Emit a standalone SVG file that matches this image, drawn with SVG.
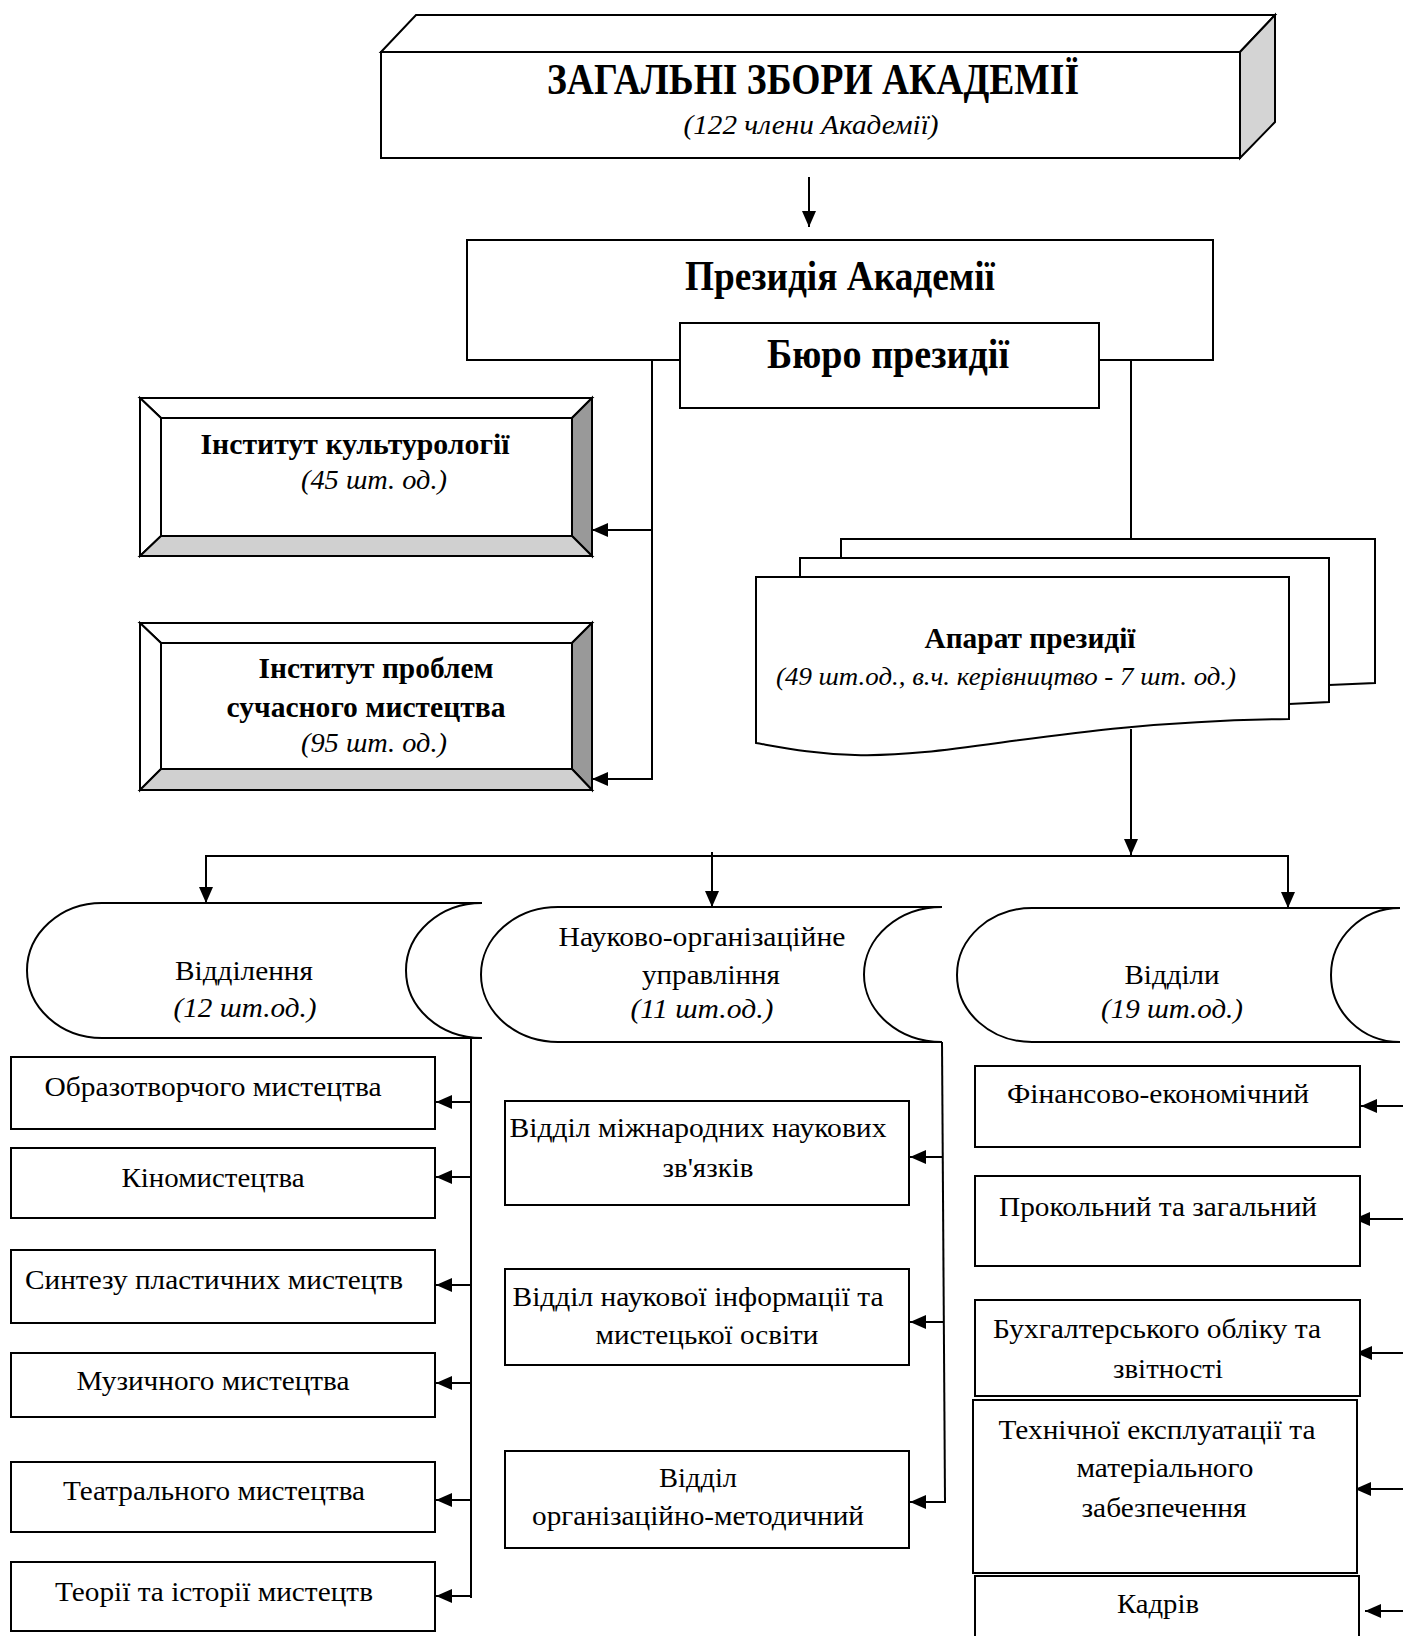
<svg xmlns="http://www.w3.org/2000/svg" width="1403" height="1636" viewBox="0 0 1403 1636">
<defs>
<style>
.b{fill:#fff;stroke:#000;stroke-width:2}
.t{font-family:"Liberation Serif","Times New Roman",serif;fill:#000;text-anchor:middle;font-size:28px}
.bd{font-weight:bold}
.it{font-style:italic}
.c{stroke:#000;stroke-width:2;fill:none}
.a{marker-end:url(#ah)}
.big{font-size:43px}
.s29{font-size:29px}
.s26{font-size:26px}
</style>
<marker id="ah" markerUnits="userSpaceOnUse" markerWidth="16" markerHeight="14" refX="16" refY="7" orient="auto">
<path d="M0,0 L16,7 L0,14 Z" fill="#000"/>
</marker>
</defs>
<rect width="1403" height="1636" fill="#fff"/>

<g id="connectors">
<line class="c a" x1="809" y1="177" x2="809" y2="227"/>
<line class="c" x1="652" y1="360" x2="652" y2="780"/>
<line class="c a" x1="652" y1="530" x2="592" y2="530"/>
<line class="c a" x1="653" y1="779" x2="592" y2="779"/>
<line class="c" x1="1131" y1="360" x2="1131" y2="539"/>
<line class="c a" x1="1131" y1="729" x2="1131" y2="855"/>
<line class="c" x1="205" y1="856" x2="1289" y2="856"/>
<line class="c a" x1="206" y1="856" x2="206" y2="903"/>
<line class="c a" x1="712" y1="852" x2="712" y2="907"/>
<line class="c a" x1="1288" y1="856" x2="1288" y2="908"/>
<line class="c" x1="471" y1="1038" x2="471" y2="1598"/>
<line class="c a" x1="471" y1="1102" x2="436" y2="1102"/>
<line class="c a" x1="471" y1="1177" x2="436" y2="1177"/>
<line class="c a" x1="471" y1="1285" x2="436" y2="1285"/>
<line class="c a" x1="471" y1="1383" x2="436" y2="1383"/>
<line class="c a" x1="472" y1="1500" x2="436" y2="1500"/>
<line class="c a" x1="471" y1="1596" x2="436" y2="1596"/>
<line class="c" x1="942" y1="1042" x2="945" y2="1502"/>
<line class="c a" x1="943" y1="1157" x2="910" y2="1157"/>
<line class="c a" x1="944" y1="1322" x2="910" y2="1322"/>
<line class="c a" x1="946" y1="1502" x2="910" y2="1502"/>
<line class="c a" x1="1403" y1="1106" x2="1361" y2="1106"/>
<line class="c a" x1="1403" y1="1219" x2="1354" y2="1219"/>
<line class="c a" x1="1403" y1="1353" x2="1356" y2="1353"/>
<line class="c a" x1="1403" y1="1489" x2="1355" y2="1489"/>
<line class="c a" x1="1403" y1="1611" x2="1365" y2="1611"/>
</g>

<g id="zagalni">
<polygon class="b" points="381,52 416,15 1275,15 1240,52"/>
<polygon class="b" points="1240,52 1275,15 1275,122 1240,158" style="fill:#d4d4d4"/>
<rect class="b" x="381" y="52" width="859" height="106"/>
<text class="t bd" x="813" y="94" style="font-size:44px" textLength="532" lengthAdjust="spacingAndGlyphs">ЗАГАЛЬНІ ЗБОРИ АКАДЕМІЇ</text>
<text class="t it" x="811" y="134" textLength="255" lengthAdjust="spacingAndGlyphs">(122 члени Академії)</text>
</g>

<g id="prezydiia">
<rect class="b" x="467" y="240" width="746" height="120"/>
<text class="t bd big" x="840" y="290" textLength="310" lengthAdjust="spacingAndGlyphs">Президія Академії</text>
</g>

<g id="biuro">
<rect class="b" x="680" y="323" width="419" height="85"/>
<text class="t bd big" x="888" y="368" textLength="242" lengthAdjust="spacingAndGlyphs">Бюро президії</text>
</g>

<g id="inst-kult">
<polygon class="b" points="140,398 592,398 572,418 161,418"/>
<polygon class="b" points="140,398 161,418 161,536 140,556"/>
<polygon class="b" points="592,398 592,556 572,536 572,418" style="fill:#999"/>
<polygon class="b" points="140,556 592,556 572,536 161,536" style="fill:#d0d0d0"/>
<rect class="b" x="161" y="418" width="411" height="118"/>
<text class="t bd s29" x="355" y="454" textLength="309" lengthAdjust="spacingAndGlyphs">Інститут культурології</text>
<text class="t it" x="374" y="489" textLength="146" lengthAdjust="spacingAndGlyphs">(45 шт. од.)</text>
</g>

<g id="inst-probl">
<polygon class="b" points="140,623 592,623 572,643 161,643"/>
<polygon class="b" points="140,623 161,643 161,769 140,790"/>
<polygon class="b" points="592,623 592,790 572,769 572,643" style="fill:#999"/>
<polygon class="b" points="140,790 592,790 572,769 161,769" style="fill:#d0d0d0"/>
<rect class="b" x="161" y="643" width="411" height="126"/>
<text class="t bd s29" x="376" y="678" textLength="235" lengthAdjust="spacingAndGlyphs">Інститут проблем</text>
<text class="t bd s29" x="366" y="717" textLength="279" lengthAdjust="spacingAndGlyphs">сучасного мистецтва</text>
<text class="t it" x="374" y="752" textLength="146" lengthAdjust="spacingAndGlyphs">(95 шт. од.)</text>
</g>

<g id="aparat">
<path class="b" d="M841,539 H1375 V683 L1329,685 L841,700 Z"/>
<path class="b" d="M800,558 H1329 V702 L1289,704 L800,720 Z"/>
<path class="b" d="M756,577 H1289 V719 C1060,722 960,758 855,755 C815,754 785,748 756,743 Z"/>
<text class="t bd s29" x="1030" y="648" textLength="211" lengthAdjust="spacingAndGlyphs">Апарат президії</text>
<text class="t it s26" x="1006" y="685" textLength="460" lengthAdjust="spacingAndGlyphs">(49 шт.од., в.ч. керівництво - 7 шт. од.)</text>
</g>

<g id="viddilennia">
<path class="b" d="M102,903 H482 A76,67.5 0 0 0 482,1038 H102 A75,67.5 0 0 1 102,903 Z"/>
<text class="t" x="244" y="980" textLength="138" lengthAdjust="spacingAndGlyphs">Відділення</text>
<text class="t it" x="245" y="1017" textLength="143" lengthAdjust="spacingAndGlyphs">(12 шт.од.)</text>
</g>

<g id="naukovo">
<path class="b" d="M558,907 H942 A78,67.5 0 0 0 942,1042 H558 A77,67.5 0 0 1 558,907 Z"/>
<text class="t" x="702" y="946" textLength="287" lengthAdjust="spacingAndGlyphs">Науково-організаційне</text>
<text class="t" x="711" y="984" textLength="138" lengthAdjust="spacingAndGlyphs">управління</text>
<text class="t it" x="702" y="1018" textLength="143" lengthAdjust="spacingAndGlyphs">(11 шт.од.)</text>
</g>

<g id="viddily">
<path class="b" d="M1032,908 H1400 A69,67 0 0 0 1400,1042 H1032 A75,67 0 0 1 1032,908 Z"/>
<text class="t" x="1172" y="984" textLength="95" lengthAdjust="spacingAndGlyphs">Відділи</text>
<text class="t it" x="1172" y="1018" textLength="142" lengthAdjust="spacingAndGlyphs">(19 шт.од.)</text>
</g>

<g id="l1"><rect class="b" x="11" y="1057" width="424" height="72"/><text class="t" x="213" y="1096" textLength="337" lengthAdjust="spacingAndGlyphs">Образотворчого мистецтва</text></g>
<g id="l2"><rect class="b" x="11" y="1148" width="424" height="70"/><text class="t" x="213" y="1187" textLength="183" lengthAdjust="spacingAndGlyphs">Кіномистецтва</text></g>
<g id="l3"><rect class="b" x="11" y="1250" width="424" height="73"/><text class="t" x="214" y="1289" textLength="378" lengthAdjust="spacingAndGlyphs">Синтезу пластичних мистецтв</text></g>
<g id="l4"><rect class="b" x="11" y="1353" width="424" height="64"/><text class="t" x="213" y="1390" textLength="273" lengthAdjust="spacingAndGlyphs">Музичного мистецтва</text></g>
<g id="l5"><rect class="b" x="11" y="1462" width="424" height="70"/><text class="t" x="214" y="1500" textLength="302" lengthAdjust="spacingAndGlyphs">Театрального мистецтва</text></g>
<g id="l6"><rect class="b" x="11" y="1562" width="424" height="69"/><text class="t" x="214" y="1601" textLength="318" lengthAdjust="spacingAndGlyphs">Теорії та історії мистецтв</text></g>

<g id="m1"><rect class="b" x="505" y="1101" width="404" height="104"/>
<text class="t" x="698" y="1137" textLength="377" lengthAdjust="spacingAndGlyphs">Відділ міжнародних наукових</text>
<text class="t" x="708" y="1177" textLength="91" lengthAdjust="spacingAndGlyphs">зв'язків</text></g>
<g id="m2"><rect class="b" x="505" y="1269" width="404" height="96"/>
<text class="t" x="698" y="1306" textLength="371" lengthAdjust="spacingAndGlyphs">Відділ наукової інформації та</text>
<text class="t" x="707" y="1344" textLength="223" lengthAdjust="spacingAndGlyphs">мистецької освіти</text></g>
<g id="m3"><rect class="b" x="505" y="1451" width="404" height="97"/>
<text class="t" x="698" y="1487" textLength="78" lengthAdjust="spacingAndGlyphs">Відділ</text>
<text class="t" x="698" y="1525" textLength="332" lengthAdjust="spacingAndGlyphs">організаційно-методичний</text></g>

<g id="r1"><rect class="b" x="975" y="1066" width="385" height="81"/>
<text class="t" x="1158" y="1103" textLength="302" lengthAdjust="spacingAndGlyphs">Фінансово-економічний</text></g>
<g id="r2"><rect class="b" x="975" y="1176" width="385" height="90"/>
<text class="t" x="1158" y="1216" textLength="318" lengthAdjust="spacingAndGlyphs">Прокольний та загальний</text></g>
<g id="r3"><rect class="b" x="975" y="1300" width="385" height="96"/>
<text class="t" x="1157" y="1338" textLength="328" lengthAdjust="spacingAndGlyphs">Бухгалтерського обліку та</text>
<text class="t" x="1168" y="1378" textLength="110" lengthAdjust="spacingAndGlyphs">звітності</text></g>
<g id="r4"><rect class="b" x="973" y="1400" width="384" height="173"/>
<text class="t" x="1157" y="1439" textLength="317" lengthAdjust="spacingAndGlyphs">Технічної експлуатації та</text>
<text class="t" x="1165" y="1477" textLength="177" lengthAdjust="spacingAndGlyphs">матеріального</text>
<text class="t" x="1164" y="1517" textLength="165" lengthAdjust="spacingAndGlyphs">забезпечення</text></g>
<g id="r5"><rect class="b" x="975" y="1576" width="384" height="70"/>
<text class="t" x="1158" y="1613" textLength="82" lengthAdjust="spacingAndGlyphs">Кадрів</text></g>
</svg>
